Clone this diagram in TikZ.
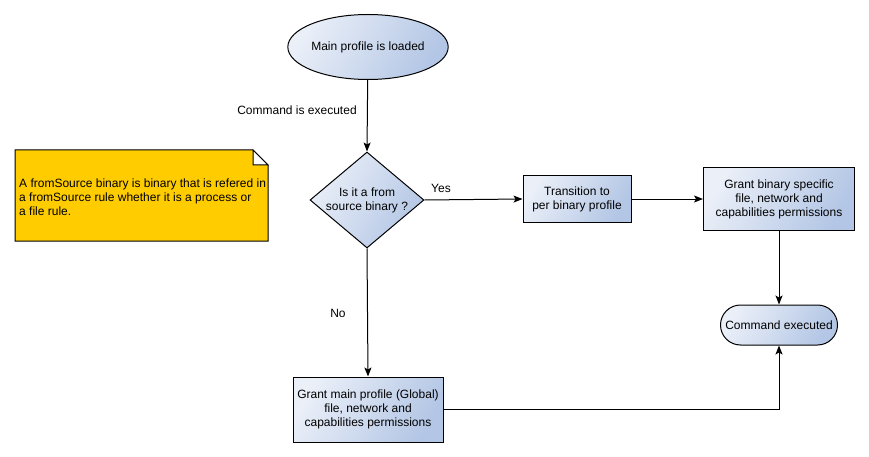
\documentclass[tikz,border=0pt]{standalone}
\usepackage{fontspec}
\setmainfont{Liberation Sans}
\usetikzlibrary{shapes.geometric,arrows.meta,positioning}
\definecolor{blueL}{HTML}{EAEFF8}
\definecolor{blueD}{HTML}{B3C6E5}
\definecolor{noteY}{HTML}{FFCC00}
\tikzset{
  base/.style={draw=black, line width=1pt, left color=blueL, right color=blueD, shading angle=60,
    font=\fontsize{12}{14}\selectfont, align=center, inner sep=0pt},
  procbox/.style={base, rectangle},
  termbox/.style={base, rectangle, rounded corners=20pt},
  startell/.style={base, ellipse},
  decbox/.style={base, diamond},
  lbl/.style={font=\fontsize{12}{14}\selectfont, inner sep=0pt},
  conn/.style={line width=1pt, -{Stealth[length=9pt,width=7pt,inset=2pt]}},
}
\begin{document}
\begin{tikzpicture}[x=1pt,y=-1pt]
\useasboundingbox (0,0) rectangle (869,457);
% note
\fill[noteY, draw=black, line width=1pt] (15,150) -- (253,150) -- (268,165) -- (268,241) -- (15,241) -- cycle;
\filldraw[fill=white, draw=black, line width=1pt] (253,150) -- (253,165) -- (268,165) -- cycle;
\node[lbl, anchor=west, align=left] (notetext) at (19,197) {A fromSource binary is binary that is refered in\\a fromSource rule whether it is a process or\\a file rule.};

\node[startell, minimum width=134pt, minimum height=65pt] (start) at (368,47) {Main profile is loaded};
\node[decbox, minimum width=114pt, minimum height=96pt,
  label={[lbl, align=center]center:Is it a from\\source binary ?}] (dec) at (367,200) {};
\node[procbox, minimum width=108pt, minimum height=47pt] (trans) at (577,199) {Transition to\\per binary profile};
\node[procbox, minimum width=151pt, minimum height=63pt] (gbin) at (779,199) {Grant binary specific\\file, network and\\capabilities permissions};
\node[termbox, minimum width=117pt, minimum height=40pt] (cmd) at (779,325) {Command executed};
\node[procbox, minimum width=150pt, minimum height=65pt] (gmain) at (368,409.5) {Grant main profile (Global)\\file, network and\\capabilities permissions};

\draw[conn] (start) -- (dec.north);
\draw[conn] (dec.east) -- (trans.west);
\draw[conn] (trans) -- (gbin);
\draw[conn] (gbin) -- (cmd);
\draw[conn] (dec.south) -- (gmain.north);
\draw[conn] (gmain.east) -| (cmd.south);

\node[lbl] (lexec) at (297,110) {Command is executed};
\node[lbl] (lyes) at (441,188) {Yes};
\node[lbl] (lno) at (338,313) {No};
\end{tikzpicture}
\end{document}
